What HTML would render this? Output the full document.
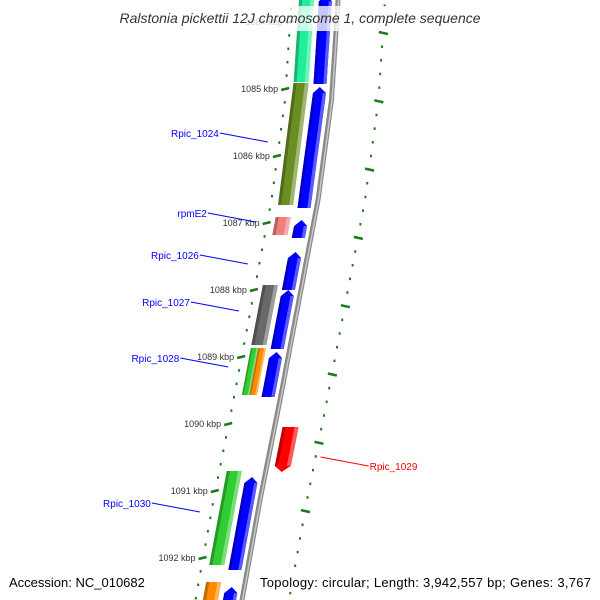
<!DOCTYPE html>
<html><head><meta charset="utf-8"><style>
html,body{margin:0;padding:0;background:#fff;overflow:hidden;}
svg{display:block;font-family:"Liberation Sans","DejaVu Sans",sans-serif;}
</style></head><body>
<svg id="map" width="600" height="600" viewBox="0 0 600 600">
<g id="ticks"></g>
<g id="backbone"></g>
<g id="feats"></g>
<g id="labels"></g>
<rect x="100" y="6" width="400" height="25" fill="#fff" fill-opacity="0.78"/>
<text x="300" y="23" text-anchor="middle" font-size="14" font-style="italic" fill="#333">Ralstonia pickettii 12J chromosome 1, complete sequence</text>
<rect x="4" y="572" width="146" height="20" fill="#fff"/>
<text x="9" y="587" font-size="13" fill="#000">Accession: NC_010682</text>
<rect x="256" y="572" width="340" height="20" fill="#fff"/>
<text x="591" y="587" font-size="13" text-anchor="end" fill="#000" textLength="331">Topology: circular; Length: 3,942,557 bp; Genes: 3,767</text>
</svg>
<script>
// data
const featNames = ["f-a","f-b","Rpic_1024","f-c","rpmE2","f-d","Rpic_1026","Rpic_1027","f-e","Rpic_1028","f-f","f-g","Rpic_1029","Rpic_1030","f-h","f-i","f-j"];
const featStart = [1083600,1083600,1084910,1084970,1086910,1086955,1087433,1087925,1088000,1088866,1088866,1088925,1090045,1090701,1090791,1092358,1092433];
const featEnd   = [1084896,1084925,1086731,1086776,1087179,1087224,1088000,1088821,1088881,1089567,1089567,1089597,1090716,1092104,1092179,1092900,1092900];
const featStrand= [-1,1,-1,1,-1,1,1,-1,1,-1,-1,1,-1,-1,1,-1,1];
const featTrack = ["rev","fwd","rev","fwd","rev","fwd","fwd","rev","fwd","revA","revB","fwd","out","rev","fwd","rev","fwd"];
const featColor = ["#22ee99","#0000ff","#6b8e23","#0000ff","#f08080","#0000ff","#0000ff","#696969","#0000ff","#32cd32","#ff8c00","#0000ff","#ff0000","#32cd32","#0000ff","#ff8c00","#0000ff"];
const tickKbp = [1084,1085,1086,1087,1088,1089,1090,1091,1092,1093];
const labelText = ["Rpic_1024","rpmE2","Rpic_1026","Rpic_1027","Rpic_1028","Rpic_1029","Rpic_1030"];
const labelBp = [1085791,1086985,1087612,1088313,1089149,1090612,1091313];

const NS="http://www.w3.org/2000/svg";
const Y0=89, PX=0.067;
function yOf(bp){return Y0+(bp-1085000)*PX;}
const bbY=[-50,0,100,200,300,400,500,600,650], bbX=[342,338,331.5,318,299,280,260,242,233];
function bx(y){for(let i=0;i<bbY.length-1;i++){if(y<=bbY[i+1]){const t=(y-bbY[i])/(bbY[i+1]-bbY[i]);return bbX[i]+t*(bbX[i+1]-bbX[i]);}}return bbX[bbX.length-1];}
function mk(tag,attrs,parent){const e=document.createElementNS(NS,tag);for(const k in attrs)e.setAttribute(k,attrs[k]);parent.appendChild(e);return e;}
function shade(hex,f){const n=parseInt(hex.slice(1),16);let r=n>>16,g=(n>>8)&255,b=n&255;const m=c=>Math.max(0,Math.min(255,Math.round(f>1?c+(255-c)*(f-1):c*f)));return "rgb("+m(r)+","+m(g)+","+m(b)+")";}
function ptsStr(a){return a.map(q=>q[0].toFixed(1)+","+q[1].toFixed(1)).join(" ");}

// backbone
const bb=document.getElementById('backbone');
let d="";for(let y=-20;y<=620;y+=5)d+=(y===-20?"M":"L")+bx(y).toFixed(1)+" "+y+" ";
const bl=mk('path',{d:d,fill:"none",stroke:"#8a8a8a","stroke-width":5},bb);


const bl2=mk('path',{d:d,fill:"none",stroke:"#c8c8c8","stroke-width":1.5,transform:"translate(0.6,0)"},bb);



// tick rings
const tg=document.getElementById('ticks');
for(let bp=1083600;bp<=1093200;bp+=200){
  const y=yOf(bp), major=(bp%1000===0);
  const x=bx(y);
  const t=mk('line',{x1:x-(major?51:47.5),x2:x-(major?43:45.5),y1:y+(major?1:0),y2:y-(major?1:0),stroke:"#1a7a1a","stroke-width":2.5},tg);
  
  
}
for(let bp=1083600;bp<=1093200;bp+=200){
  const y=yOf(bp)-56+(bp-1085000)*0.0013, major=(bp%1000===0);
  const x=bx(y);
  const t=mk('line',{x1:x+(major?43:46),x2:x+(major?52:48),y1:y-(major?1:0),y2:y+(major?1:0),stroke:"#1a7a1a","stroke-width":2.5},tg);
  
  
}
tickKbp.forEach(k=>{
  const y=yOf(k*1000);
  const t=mk('text',{x:bx(y)-54,y:y+3,"text-anchor":"end","font-size":"9",fill:"#333"},tg);
  t.textContent=k+" kbp";
  
  
});

// features
const tracks={fwd:[-19,-6],rev:[-39,-24],revA:[-39,-31.5],revB:[-31.5,-24],out:[8,24]};
const fg=document.getElementById('feats');
featStart.forEach((s,i)=>{
  const e=featEnd[i], tr=tracks[featTrack[i]];
  const y1=yOf(s), y2=yOf(e), o1=tr[0], o2=tr[1];
  const g=mk('g',{},fg);
  
  
  const isOut=featTrack[i]==="out";
  const head=(featTrack[i]==="fwd"||isOut)&&(y2-y1>15)?6:0;
  const mid=(o1+o2)/2;
  let pts, ta=y1, tb=y2;
  if(featStrand[i]===1&&head){
    ta=y1+head;
    pts=[[bx(y1)+mid,y1],[bx(ta)+o2,ta],[bx(y2)+o2,y2],[bx(y2)+o1,y2],[bx(ta)+o1,ta]];
  } else if(isOut){
    tb=y2-head;
    pts=[[bx(y1)+o1,y1],[bx(y1)+o2,y1],[bx(tb)+o2,tb],[bx(y2)+mid,y2],[bx(tb)+o1,tb]];
  } else {
    pts=[[bx(y1)+o1,y1],[bx(y1)+o2,y1],[bx(y2)+o2,y2],[bx(y2)+o1,y2]];
  }
  const p=mk('polygon',{points:ptsStr(pts),fill:featColor[i]},g);
  
  
  const w=o2-o1;
  const dk=mk('polygon',{points:ptsStr([[bx(ta)+o1,ta],[bx(ta)+o1+w*0.2,ta],[bx(tb)+o1+w*0.2,tb],[bx(tb)+o1,tb]]),fill:shade(featColor[i],0.75)},g);
  
  
  const lt=mk('polygon',{points:ptsStr([[bx(ta)+o2-w*0.25,ta],[bx(ta)+o2,ta],[bx(tb)+o2,tb],[bx(tb)+o2-w*0.25,tb]]),fill:shade(featColor[i],1.35)},g);
  
  
});

// labels
const lg=document.getElementById('labels');
labelText.forEach((t,i)=>{
  const y=yOf(labelBp[i]);
  const red=t==="Rpic_1029";
  const col=red?"#ff0000":"#0000ff";
  if(red){
    const x0=bx(y-8)+52;
    const l=mk('line',{x1:x0,y1:y-8,x2:x0+48,y2:y+1,stroke:col,"stroke-width":1},lg);
    
    
    const tx=mk('text',{x:x0+49,y:y+5,"font-size":"10",fill:col},lg);
    tx.textContent=t;
    
    
  } else {
    const x1=bx(y)-58;
    const lx=x1-48, ly=y-9;
    const l=mk('line',{x1:lx,y1:ly,x2:x1,y2:y,stroke:col,"stroke-width":1},lg);
    
    
    const tx=mk('text',{x:lx-1,y:ly+4,"font-size":"10","text-anchor":"end",fill:col},lg);
    tx.textContent=t;
    
    
  }
});
</script>
</body></html>
